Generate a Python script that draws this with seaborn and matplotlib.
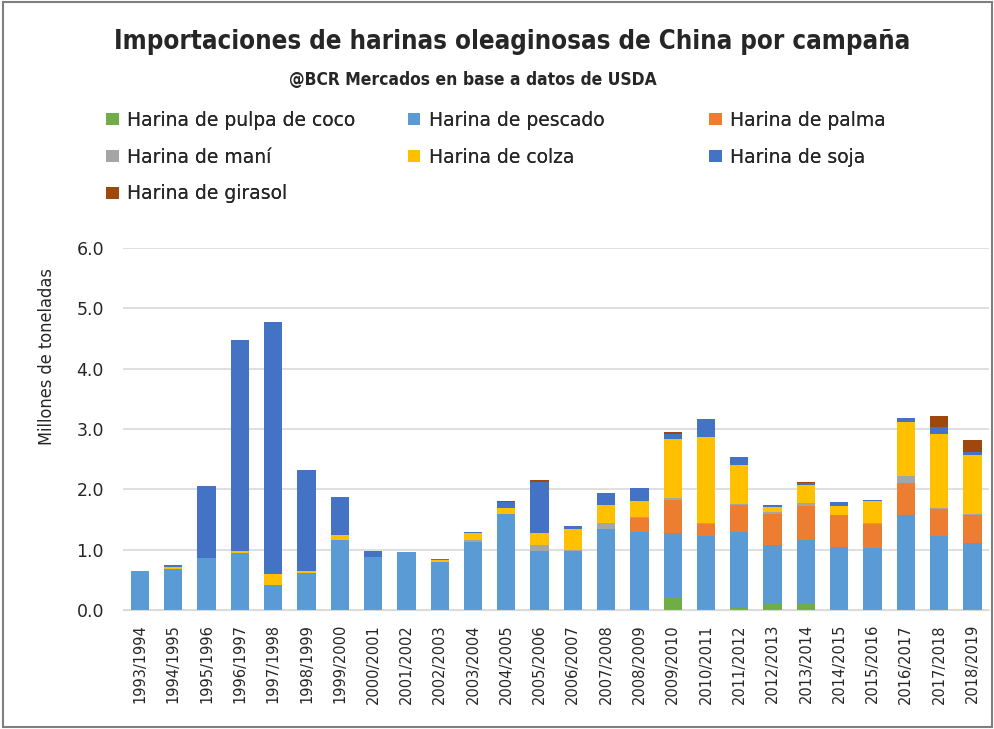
import matplotlib
matplotlib.use("Agg")
import matplotlib.pyplot as plt
from matplotlib.patches import Patch, Rectangle
import seaborn as sns
import pandas as pd
import numpy as np

# campañas (eje x)
campanas = ["1993/1994", "1994/1995", "1995/1996", "1996/1997", "1997/1998", "1998/1999",
            "1999/2000", "2000/2001", "2001/2002", "2002/2003", "2003/2004", "2004/2005",
            "2005/2006", "2006/2007", "2007/2008", "2008/2009", "2009/2010", "2010/2011",
            "2011/2012", "2012/2013", "2013/2014", "2014/2015", "2015/2016", "2016/2017",
            "2017/2018", "2018/2019"]

# millones de toneladas
coco = [0, 0, 0, 0, 0, 0, 0, 0, 0, 0, 0, 0, 0.02, 0, 0, 0, 0.22, 0.01, 0.04, 0.10, 0.10, 0.01, 0, 0, 0.02, 0.02]
pescado = [0.65, 0.69, 0.87, 0.95, 0.42, 0.62, 1.17, 0.88, 0.96, 0.79, 1.13, 1.60, 0.96, 0.98, 1.35, 1.29,
           1.05, 1.22, 1.26, 0.98, 1.06, 1.03, 1.03, 1.58, 1.21, 1.10]
palma = [0, 0, 0, 0, 0, 0, 0, 0, 0, 0.01, 0, 0, 0, 0, 0, 0.24, 0.55, 0.19, 0.44, 0.52, 0.56, 0.53, 0.40, 0.53, 0.45, 0.46]
mani = [0, 0, 0, 0, 0, 0, 0, 0, 0, 0, 0.04, 0, 0.10, 0.01, 0.09, 0.02, 0.03, 0.02, 0.01, 0.02, 0.06, 0.01, 0.01, 0.12, 0.02, 0.02]
colza = [0, 0.02, 0, 0.03, 0.18, 0.03, 0.08, 0, 0, 0.03, 0.10, 0.10, 0.20, 0.36, 0.30, 0.25, 0.98, 1.42, 0.66, 0.09,
         0.30, 0.14, 0.36, 0.88, 1.22, 0.97]
soja = [0, 0.03, 1.18, 3.50, 4.18, 1.67, 0.62, 0.10, 0.01, 0.01, 0.02, 0.09, 0.85, 0.05, 0.20, 0.22, 0.09, 0.31,
        0.12, 0.03, 0.03, 0.07, 0.02, 0.07, 0.12, 0.05]
girasol = [0, 0, 0, 0, 0, 0, 0, 0, 0, 0, 0.01, 0.01, 0.02, 0, 0, 0, 0.03, 0, 0, 0, 0.02, 0, 0, 0, 0.17, 0.20]

series = {
    "Harina de pulpa de coco": coco,
    "Harina de pescado": pescado,
    "Harina de palma": palma,
    "Harina de maní": mani,
    "Harina de colza": colza,
    "Harina de soja": soja,
    "Harina de girasol": girasol,
}
colores = ["#70AD47", "#5B9BD5", "#ED7D31", "#A5A5A5", "#FFC000", "#4472C4", "#9E480E"]

sns.set_style("white")
plt.rcParams["font.family"] = ["DejaVu Sans"]

fig = plt.figure(figsize=(9.95, 7.29), dpi=100)
ax = fig.add_axes([0.124, 0.163, 0.87, 0.497])

# barras apiladas
base = np.zeros(len(campanas))
for (nombre, valores), color in zip(series.items(), colores):
    df = pd.DataFrame({"campana": campanas, "valor": valores})
    sns.barplot(data=df, x="campana", y="valor", color=color, bottom=base,
                width=0.55, saturation=1, ax=ax, linewidth=0)
    base = base + np.array(valores)

ax.set_ylim(0, 6.0)
ax.set_yticks(np.arange(0, 6.01, 1.0))
ax.set_yticklabels([f"{v:.1f}" for v in np.arange(0, 6.01, 1.0)], fontsize=12.5)
ax.yaxis.grid(True, color="#D9D9D9", linewidth=1.2)
ax.set_axisbelow(True)
for s in ["top", "right", "left"]:
    ax.spines[s].set_visible(False)
ax.spines["bottom"].set_color("#D9D9D9")
ax.tick_params(axis="y", length=0, pad=14)
ax.tick_params(axis="x", length=0, labelrotation=90, labelsize=10.5, pad=10)
ax.set_xlabel("")
ax.set_ylabel("Millones de toneladas", fontsize=13, stretch="condensed")
ax.yaxis.set_label_coords(-0.078, 0.70)

# títulos
fig.text(0.515, 0.942, "Importaciones de harinas oleaginosas de China por campaña",
         ha="center", va="center", fontsize=18.5, fontweight="bold", stretch="condensed")
fig.text(0.475, 0.89, "@BCR Mercados en base a datos de USDA",
         ha="center", va="center", fontsize=12.5, fontweight="bold", stretch="condensed")

# leyenda en tres columnas fijas
nombres = list(series.keys())
columnas = [[0, 3, 6], [1, 4], [2, 5]]
xs = [0.107, 0.410, 0.713]
for xcol, idx in zip(xs, columnas):
    handles = [Patch(facecolor=colores[i], edgecolor="none") for i in idx]
    leg = fig.legend(handles, [nombres[i] for i in idx], loc="upper left",
                     bbox_to_anchor=(xcol, 0.848), frameon=False, fontsize=13.5,
                     handlelength=0.65, handleheight=0.65, handletextpad=0.45,
                     labelspacing=0.95, borderaxespad=0, borderpad=0)
    fig.add_artist(leg)

# marco
fig.patches.append(Rectangle((0.003, 0.003), 0.994, 0.994, transform=fig.transFigure,
                             fill=False, edgecolor="#7F7F7F", linewidth=1.5))

fig.savefig("out.png", dpi=100)
